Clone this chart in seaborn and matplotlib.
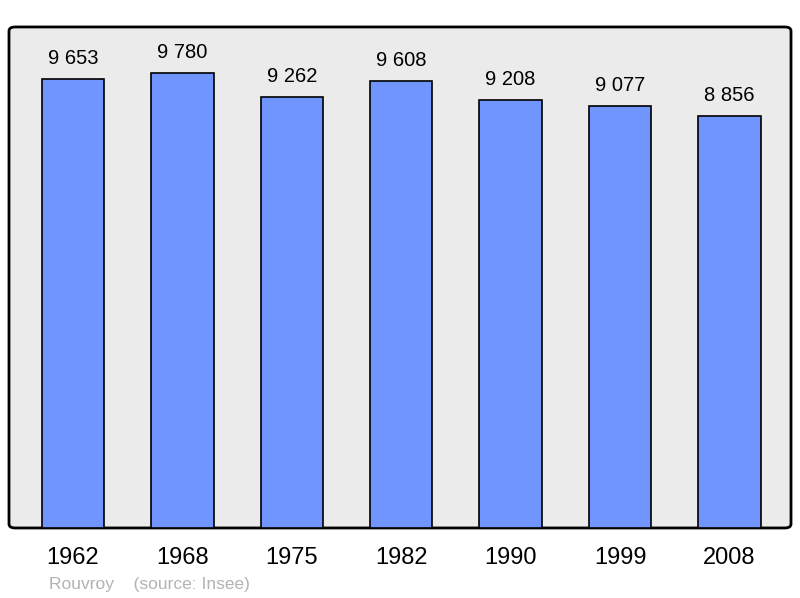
import matplotlib
matplotlib.use("Agg")
import matplotlib.pyplot as plt
import seaborn as sns
import pandas as pd
from matplotlib.patches import FancyBboxPatch

years = ["1962", "1968", "1975", "1982", "1990", "1999", "2008"]
population = [9653, 9780, 9262, 9608, 9208, 9077, 8856]
labels = ["9 653", "9 780", "9 262", "9 608", "9 208", "9 077", "8 856"]

df = pd.DataFrame({"year": years, "pop": population})

sns.set_style("white")
plt.rcParams["font.family"] = ["Liberation Sans", "DejaVu Sans"]

fig = plt.figure(figsize=(8, 5.98), dpi=100)
ax = fig.add_axes([0.01125, 0.1171, 0.9775, 0.8378])
ax.set_facecolor("none")

# rounded grey frame behind the bars
frame = FancyBboxPatch((0, 0), 1, 1, boxstyle="round,pad=0,rounding_size=0.008",
                       transform=ax.transAxes, facecolor="#ebebeb",
                       edgecolor="black", linewidth=2, zorder=0, clip_on=False)
ax.add_patch(frame)

sns.barplot(data=df, x="year", y="pop", color="#7095ff", saturation=1,
            width=0.57, edgecolor="black", linewidth=1.2, ax=ax, zorder=2)

for i, (v, t) in enumerate(zip(population, labels)):
    ax.annotate(t, (i, v), xytext=(0, 8), textcoords="offset points",
                ha="center", va="bottom", fontsize=14.5, color="black")

ax.set_xlim(-0.585, 6.562)
ax.set_ylim(0, 10771)
ax.set_xlabel("")
ax.set_ylabel("")
ax.set_yticks([])
ax.tick_params(axis="x", length=0, pad=14, labelsize=17, labelcolor="black")
for s in ax.spines.values():
    s.set_visible(False)

fig.text(49 / 800, 1 - 584 / 598, "Rouvroy    (source: Insee)", fontsize=12.5,
         color="#b3b3b3", ha="left", va="center")

fig.savefig("out.png", dpi=100)
